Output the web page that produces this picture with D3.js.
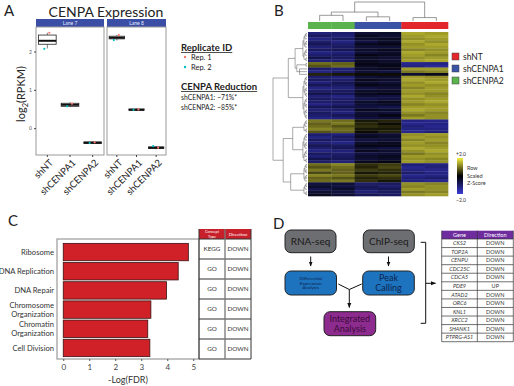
<!DOCTYPE html>
<html><head><meta charset="utf-8">
<script src="https://cdn.jsdelivr.net/npm/d3@7"></script>
<style>body{margin:0;background:#fff} svg{display:block} text{font-family:Lato,"Open Sans",sans-serif}</style>
</head><body><svg id="c" width="514" height="386"></svg>
<script>
// ---------- DATA ----------
// Panel A
const laneNames = ["Lane 7", "Lane 8"];
const groups = ["shNT", "shCENPA1", "shCENPA2"];
// box stats: [q1, median, q3, whiskerLow, whiskerHigh]
const lane7Box = [[2.19, 2.28, 2.43, 2.08, 2.49], [0.57, 0.61, 0.65, 0.55, 0.67], [-0.40, -0.38, -0.36, -0.41, -0.35]];
const lane8Box = [[2.33, 2.36, 2.40, 2.29, 2.43], [0.47, 0.48, 0.50, 0.46, 0.51], [-0.53, -0.51, -0.49, -0.55, -0.47]];
const rep1Lane7 = [2.49, 0.64, -0.37];
const rep2Lane7 = [2.07, 0.57, -0.39];
const rep1Lane8 = [2.43, 0.49, -0.51];
const rep2Lane8 = [2.30, 0.48, -0.47];
const yTicksA = [0, 1, 2];
const replicateLabels = ["Rep. 1", "Rep. 2"];
const reductionLines = ["shCENPA1: ~71%*", "shCENPA2: ~85%*"];

// Panel B
const sampleGroups = ["shCENPA2", "shCENPA2", "shCENPA1", "shCENPA1", "shNT", "shNT"];
const legendGroups = ["shNT", "shCENPA1", "shCENPA2"];
const blockSizes = [11, 2, 1, 1, 1, 16, 5, 11, 7, 5];
const heatRows = [
  [-1.1,-1.0,-0.5,-0.4,1.4,1.3],[-0.9,-1.1,-0.3,-0.5,1.3,1.4],[-1.2,-0.9,-0.4,-0.3,1.2,1.3],
  [-1.0,-1.2,-0.6,-0.4,1.4,1.2],[-0.8,-1.0,-0.3,-0.2,1.2,1.4],[-1.1,-0.9,-0.5,-0.5,1.3,1.3],
  [-0.9,-0.8,-0.4,-0.3,1.1,1.2],[-1.2,-1.1,-0.5,-0.4,1.4,1.3],[-1.0,-0.9,-0.2,-0.3,1.3,1.1],
  [-0.7,-0.9,-0.4,-0.5,1.2,1.3],[-1.1,-1.0,-0.3,-0.4,1.3,1.4],
  [0.9,0.8,-0.2,-0.3,-1.3,-1.2],[0.7,0.9,-0.3,-0.2,-1.2,-1.4],
  [-1.0,-1.1,-0.4,-0.3,1.3,1.3],
  [-1.2,-1.0,-0.5,-0.6,1.0,1.1],
  [0.3,0.2,0.1,0.1,-0.5,-0.3],
  [-1.0,-1.1,-0.5,-0.4,1.3,1.2],[-0.9,-1.0,-0.3,-0.4,1.4,1.3],[-1.1,-0.8,-0.4,-0.5,1.2,1.4],
  [-0.8,-0.9,-0.2,-0.3,1.3,1.2],[-1.2,-1.1,-0.6,-0.5,1.1,1.3],[-1.0,-0.9,-0.4,-0.4,1.3,1.3],
  [-0.7,-0.8,-0.3,-0.2,1.2,1.1],[-1.1,-1.2,-0.5,-0.6,1.4,1.2],[-0.9,-1.0,-0.7,-0.6,1.2,1.3],
  [-1.0,-0.9,-0.4,-0.3,1.3,1.4],[-1.2,-1.0,-0.5,-0.4,1.1,1.2],[-0.8,-0.7,-0.6,-0.7,1.3,1.3],
  [-1.1,-1.0,-0.3,-0.4,1.4,1.3],[-0.9,-1.1,-0.5,-0.5,1.2,1.1],[-1.0,-0.8,-0.4,-0.2,1.0,1.2],
  [-1.2,-1.1,-0.6,-0.5,1.3,1.2],
  [1.0,0.9,0.2,0.3,-1.2,-1.3],[0.8,1.0,0.3,0.1,-1.3,-1.2],[0.9,0.7,0.4,0.3,-1.1,-1.3],
  [1.1,0.9,0.2,0.2,-1.2,-1.2],[0.7,0.8,0.1,0.3,-1.3,-1.1],
  [-1.0,-1.1,-0.4,-0.5,1.2,1.3],[-1.2,-0.9,-0.3,-0.4,1.3,1.2],[-0.9,-1.0,-0.6,-0.5,1.1,1.3],
  [-1.1,-1.2,-0.4,-0.3,1.3,1.1],[-0.8,-0.9,-0.2,-0.2,1.2,1.2],[-1.0,-0.8,-0.5,-0.6,1.4,1.3],
  [-1.2,-1.1,-0.3,-0.4,1.2,1.4],[-0.9,-1.0,-0.6,-0.5,1.0,1.2],[-1.1,-0.9,-0.4,-0.3,1.3,1.3],
  [-0.7,-0.8,-0.5,-0.4,1.2,1.1],[-1.0,-1.1,-0.3,-0.2,1.3,1.2],
  [0.9,1.1,0.4,0.5,-1.1,-1.2],[0.7,0.9,0.3,0.6,-1.3,-1.1],[1.0,0.8,0.5,0.4,-1.2,-1.3],
  [0.6,0.8,0.2,0.3,-1.0,-1.2],[1.1,1.0,0.5,0.6,-1.3,-1.2],[0.8,0.7,0.3,0.4,-1.1,-1.0],
  [0.9,1.0,0.4,0.2,-1.2,-1.3],
  [-0.6,-0.5,-1.0,-0.9,1.2,1.1],[-0.4,-0.6,-0.8,-1.0,1.1,1.2],[-0.7,-0.4,-0.9,-0.8,1.3,1.2],
  [-0.5,-0.6,-1.1,-0.9,1.0,1.1],[-0.3,-0.5,-0.8,-0.9,1.2,1.3]
];

// Panel C
const concepts = ["Ribosome", "DNA Replication", "DNA Repair", "Chromosome Organization", "Chromatin Organization", "Cell Division"];
const negLogFDR = [4.81, 4.42, 3.97, 3.37, 3.25, 3.33];
const conceptType = ["KEGG", "GO", "GO", "GO", "GO", "GO"];
const conceptDirection = ["DOWN", "DOWN", "DOWN", "DOWN", "DOWN", "DOWN"];
const xTicksC = [0, 1, 2, 3, 4, 5];

// Panel D
const genes = ["CKS2", "TOP2A", "CENPU", "CDC25C", "CDCA5", "PDE9", "ATAD2", "ORC6", "KNL1", "XRCC2", "SHANK1", "PTPRG-AS1"];
const geneDirection = ["DOWN", "DOWN", "DOWN", "DOWN", "DOWN", "UP", "DOWN", "DOWN", "DOWN", "DOWN", "DOWN", "DOWN"];

// ---------- DRAW ----------
const svg = d3.select("#c");
const label = (x, y, t) => svg.append("text").attr("x", x).attr("y", y).attr("font-size", 15).attr("fill", "#222").text(t);

// ===== Panel A =====
label(4, 16, "A");
svg.append("text").attr("x", 106).attr("y", 17).attr("text-anchor", "middle").attr("font-size", 14).attr("fill", "#222").text("CENPA Expression");
const yA = d3.scaleLinear().domain([-0.7, 2.64]).range([155, 27]);
const repColors = ["#F8766D", "#00BFC4"];
const panelsA = [
  { x0: 36, x1: 104, lane: laneNames[0], box: lane7Box, r1: rep1Lane7, r2: rep2Lane7 },
  { x0: 107, x1: 166, lane: laneNames[1], box: lane8Box, r1: rep1Lane8, r2: rep2Lane8 }
];
panelsA.forEach((p, pi) => {
  const g = svg.append("g");
  const xb = d3.scaleBand().domain(groups).range([p.x0, p.x1]);
  g.append("rect").attr("x", p.x0).attr("y", 19).attr("width", p.x1 - p.x0).attr("height", 8).attr("fill", "#3b4ea6");
  g.append("text").attr("x", (p.x0 + p.x1) / 2).attr("y", 25.3).attr("text-anchor", "middle").attr("font-size", 5).attr("fill", "#e8ecff").text(p.lane);
  g.append("rect").attr("x", p.x0).attr("y", 27).attr("width", p.x1 - p.x0).attr("height", 128).attr("fill", "#fff").attr("stroke", "#9a9a9a").attr("stroke-width", 1);
  groups.forEach((grp, i) => {
    const b = p.box[i], cx = xb(grp) + xb.bandwidth() / 2, w = xb.bandwidth() * 0.78;
    g.append("line").attr("x1", cx).attr("x2", cx).attr("y1", yA(b[4])).attr("y2", yA(b[2])).attr("stroke", "#222").attr("stroke-width", 0.6);
    g.append("line").attr("x1", cx).attr("x2", cx).attr("y1", yA(b[0])).attr("y2", yA(b[3])).attr("stroke", "#222").attr("stroke-width", 0.6);
    g.append("rect").attr("x", cx - w / 2).attr("y", yA(b[2])).attr("width", w).attr("height", Math.max(0.5, yA(b[0]) - yA(b[2])))
      .attr("fill", "#fff").attr("stroke", "#222").attr("stroke-width", 0.8);
    g.append("line").attr("x1", cx - w / 2).attr("x2", cx + w / 2).attr("y1", yA(b[1])).attr("y2", yA(b[1])).attr("stroke", "#111").attr("stroke-width", 2);
    g.append("circle").attr("cx", cx + 2).attr("cy", yA(p.r1[i])).attr("r", 1.1).attr("fill", repColors[0]);
    g.append("circle").attr("cx", cx - 3).attr("cy", yA(p.r2[i])).attr("r", 1.1).attr("fill", repColors[1]);
  });
  const ax = g.append("g").attr("transform", "translate(0,155)").call(d3.axisBottom(xb).tickSize(2).tickSizeOuter(0));
  ax.select(".domain").remove();
  ax.selectAll(".tick line").attr("stroke", "#444");
  ax.selectAll(".tick text").attr("y", 0).attr("dy", "0.35em").attr("font-size", 9.5).attr("fill", "#222")
    .attr("text-anchor", "end").attr("transform", "translate(4,6) rotate(-45)").attr("font-family", "Lato");
  if (pi === 0) {
    const ay = g.append("g").attr("transform", `translate(${p.x0},0)`).call(d3.axisLeft(yA).tickValues(yTicksA).tickSize(2).tickPadding(2).tickFormat(d3.format("d")));
    ay.select(".domain").remove();
    ay.selectAll(".tick line").attr("stroke", "#444");
    ay.selectAll(".tick text").attr("font-size", 5).attr("fill", "#555");
  }
});
const ylab = svg.append("text").attr("transform", "translate(25,94) rotate(-90)").attr("text-anchor", "middle").attr("font-size", 11).attr("fill", "#222");
ylab.append("tspan").text("log");
ylab.append("tspan").attr("font-size", 7.5).attr("dy", 3).text("2");
ylab.append("tspan").attr("dy", -3).text("(RPKM)");
// legend A
function ulTitle(x, y, t) {
  const tx = svg.append("text").attr("x", x).attr("y", y).attr("font-size", 9.5).attr("font-weight", "bold").attr("fill", "#222").text(t);
  const w = tx.node().getComputedTextLength();
  svg.append("line").attr("x1", x).attr("x2", x + w).attr("y1", y + 1.5).attr("y2", y + 1.5).attr("stroke", "#222").attr("stroke-width", 0.8);
}
ulTitle(181, 51, "Replicate ID");
replicateLabels.forEach((t, i) => {
  svg.append("circle").attr("cx", 185).attr("cy", 57 + i * 10).attr("r", 1.2).attr("fill", repColors[i]);
  svg.append("text").attr("x", 191).attr("y", 60 + i * 10).attr("font-size", 7.5).attr("fill", "#222").text(t);
});
ulTitle(181, 90, "CENPA Reduction");
reductionLines.forEach((t, i) => svg.append("text").attr("x", 181).attr("y", 100 + i * 10).attr("font-size", 6.8).attr("fill", "#222").text(t));

// ===== Panel B =====
label(274, 16, "B");
const groupColor = { shNT: "#e3262b", shCENPA1: "#3a53a4", shCENPA2: "#5ab34c" };
const xH = d3.scaleBand().domain(d3.range(sampleGroups.length)).range([308, 448]);
const yH = d3.scaleBand().domain(d3.range(heatRows.length)).range([32, 196]);
const heatColor = d3.scaleLinear().domain([-2, 0, 2]).range(["#3a3ad8", "#000000", "#f4f040"]);
const gH = svg.append("g");
heatRows.forEach((row, r) => row.forEach((v, c) => {
  gH.append("rect").attr("x", xH(c)).attr("y", yH(r)).attr("width", xH.bandwidth() + 0.3).attr("height", yH.bandwidth() + 0.3).attr("fill", heatColor(v));
}));
sampleGroups.forEach((s, c) => gH.append("rect").attr("x", xH(c)).attr("y", 22).attr("width", xH.bandwidth() + 0.3).attr("height", 7).attr("fill", groupColor[s]));
// column dendrogram (heights 0..1)
const colTree = { h: 1, c: [{ h: 0.47, c: [{ h: 0.3, c: [0, 1] }, { h: 0.36, c: [{ h: 0.22, c: [2, 3] }] }] }, { h: 0.18, c: [4, 5] }] };
const colY = h => 21 - h * 19;
function drawColNode(n) {
  if (typeof n === "number") return { x: xH(n) + xH.bandwidth() / 2, y: 21 };
  const kids = n.c.map(drawColNode);
  const y = colY(n.h);
  if (kids.length === 1) return kids[0].y < y ? kids[0] : (svg.append("line").attr("x1", kids[0].x).attr("x2", kids[0].x).attr("y1", y).attr("y2", kids[0].y).attr("stroke", "#555").attr("stroke-width", 0.6), { x: kids[0].x, y });
  kids.forEach(k => svg.append("line").attr("x1", k.x).attr("x2", k.x).attr("y1", y).attr("y2", k.y).attr("stroke", "#555").attr("stroke-width", 0.6));
  svg.append("line").attr("x1", kids[0].x).attr("x2", kids[kids.length - 1].x).attr("y1", y).attr("y2", y).attr("stroke", "#555").attr("stroke-width", 0.6);
  return { x: (kids[0].x + kids[kids.length - 1].x) / 2, y };
}
drawColNode(colTree);
// row dendrogram
const blockStarts = blockSizes.map((s, i) => d3.sum(blockSizes.slice(0, i)));
function rowSub(lo, hi) {
  if (lo === hi) return lo;
  const mid = Math.floor((lo + hi) / 2);
  return { h: 0.03 * Math.ceil(Math.log2(hi - lo + 1)), c: [rowSub(lo, mid), rowSub(mid + 1, hi)] };
}
const blockTree = { h: 1, c: [
  { h: 0.55, c: [{ h: 0.35, c: [{ b: 0 }, { h: 0.3, c: [{ b: 1 }, { h: 0.22, c: [{ b: 2 }, { b: 3 }, { b: 4 }] }] }] }, { b: 5 }] },
  { h: 0.7, c: [{ h: 0.42, c: [{ b: 6 }, { b: 7 }] }, { h: 0.48, c: [{ b: 8 }, { b: 9 }] }] }
] };
const rowX = h => 307 - h * 34;
function drawRowNode(n) {
  if (typeof n === "number") return { x: 307, y: yH(n) + yH.bandwidth() / 2 };
  if (n.b !== undefined) return drawRowNode(rowSub(blockStarts[n.b], blockStarts[n.b] + blockSizes[n.b] - 1));
  const kids = n.c.map(drawRowNode);
  const x = rowX(n.h);
  kids.forEach(k => svg.append("line").attr("x1", x).attr("x2", k.x).attr("y1", k.y).attr("y2", k.y).attr("stroke", "#555").attr("stroke-width", 0.5));
  svg.append("line").attr("x1", x).attr("x2", x).attr("y1", kids[0].y).attr("y2", kids[kids.length - 1].y).attr("stroke", "#555").attr("stroke-width", 0.5);
  return { x, y: (kids[0].y + kids[kids.length - 1].y) / 2 };
}
drawRowNode(blockTree);
// legend B
legendGroups.forEach((g, i) => {
  svg.append("rect").attr("x", 452).attr("y", 53 + i * 12).attr("width", 7).attr("height", 7).attr("fill", groupColor[g]).attr("stroke", "#444").attr("stroke-width", 0.5);
  svg.append("text").attr("x", 463).attr("y", 59.5 + i * 12).attr("font-size", 8.5).attr("fill", "#222").text(g);
});
const defs = svg.append("defs");
const grad = defs.append("linearGradient").attr("id", "zg").attr("x1", 0).attr("x2", 0).attr("y1", 0).attr("y2", 1);
grad.append("stop").attr("offset", "0%").attr("stop-color", heatColor(2));
grad.append("stop").attr("offset", "50%").attr("stop-color", heatColor(0));
grad.append("stop").attr("offset", "100%").attr("stop-color", heatColor(-2));
svg.append("rect").attr("x", 457).attr("y", 158).attr("width", 6).attr("height", 36).attr("fill", "url(#zg)");
svg.append("text").attr("x", 456).attr("y", 156).attr("font-size", 5).attr("fill", "#333").text("+2.0");
svg.append("text").attr("x", 456).attr("y", 202).attr("font-size", 5).attr("fill", "#333").text("\u22122.0");
["Row", "Scaled", "Z-Score"].forEach((t, i) => svg.append("text").attr("x", 467).attr("y", 170 + i * 7.5).attr("font-size", 5.5).attr("fill", "#333").text(t));

// ===== Panel C =====
label(8, 226, "C");
const xC = d3.scaleLinear().domain([-0.24, 5.22]).range([57, 199]);
const yC = d3.scaleBand().domain(concepts).range([242.4, 357.6]).paddingInner(0.093).paddingOuter(0.05);
svg.append("rect").attr("x", 57).attr("y", 239).attr("width", 142).attr("height", 120).attr("fill", "#fff").attr("stroke", "#9a9a9a").attr("stroke-width", 1.2);
concepts.forEach((c, i) => {
  svg.append("rect").attr("x", xC(0)).attr("y", yC(c)).attr("width", xC(negLogFDR[i]) - xC(0)).attr("height", yC.bandwidth())
    .attr("fill", "#cf2127").attr("stroke", "#3a1212").attr("stroke-width", 0.8);
  const lines = c.length > 16 ? c.split(" ") : [c];
  const cy = yC(c) + yC.bandwidth() / 2;
  lines.forEach((l, j) => svg.append("text").attr("x", 54).attr("y", cy + (j - (lines.length - 1) / 2) * 9.3).attr("dy", "0.35em")
    .attr("text-anchor", "end").attr("font-size", 7.6).attr("fill", "#333").text(l));
});
const axC = svg.append("g").attr("transform", "translate(0,359)").call(d3.axisBottom(xC).tickValues(xTicksC).tickFormat(d3.format("d")).tickSize(2).tickPadding(3));
axC.select(".domain").remove();
axC.selectAll(".tick line").attr("stroke", "#555");
axC.selectAll(".tick text").attr("font-size", 8).attr("fill", "#444").attr("font-family", "Lato");
svg.append("text").attr("x", 128).attr("y", 383).attr("text-anchor", "middle").attr("font-size", 9).attr("fill", "#333").text("-Log(FDR)");
// table C
const tC = svg.append("g");
const tcY = d3.scaleBand().domain(concepts).range([239, 359]);
tC.append("rect").attr("x", 199).attr("y", 229).attr("width", 52).attr("height", 10).attr("fill", "#c8202a");
tC.append("text").attr("x", 212).attr("y", 233.3).attr("text-anchor", "middle").attr("font-size", 3.8).attr("fill", "#fff").text("Concept");
tC.append("text").attr("x", 212).attr("y", 237.5).attr("text-anchor", "middle").attr("font-size", 3.8).attr("fill", "#fff").text("Type");
tC.append("text").attr("x", 238).attr("y", 236).attr("text-anchor", "middle").attr("font-size", 4.6).attr("fill", "#fff").text("Direction");
concepts.forEach((c, i) => {
  const cy = tcY(c) + tcY.bandwidth() / 2;
  tC.append("line").attr("x1", 199).attr("x2", 251).attr("y1", tcY(c) + tcY.bandwidth()).attr("y2", tcY(c) + tcY.bandwidth()).attr("stroke", "#333").attr("stroke-width", 1);
  tC.append("text").attr("x", 212).attr("y", cy).attr("dy", "0.35em").attr("text-anchor", "middle").attr("font-size", 6.3).attr("fill", "#333").text(conceptType[i]);
  tC.append("text").attr("x", 238).attr("y", cy).attr("dy", "0.35em").attr("text-anchor", "middle").attr("font-size", 6.3).attr("fill", "#333").text(conceptDirection[i]);
});
tC.append("line").attr("x1", 199).attr("x2", 251).attr("y1", 239).attr("y2", 239).attr("stroke", "#333").attr("stroke-width", 1);
[199, 225, 251].forEach(x => tC.append("line").attr("x1", x).attr("x2", x).attr("y1", 229).attr("y2", 359).attr("stroke", x === 225 ? "#777" : "#333").attr("stroke-width", x === 225 ? 1.3 : 1));

// ===== Panel D =====
label(273, 229, "D");
defs.append("marker").attr("id", "ah").attr("viewBox", "0 0 10 10").attr("refX", 9).attr("refY", 5).attr("markerWidth", 5).attr("markerHeight", 5).attr("orient", "auto")
  .append("path").attr("d", "M0,1 L10,5 L0,9 Z").attr("fill", "#111");
function box(x, y, w, h, fill, lines, fs, color) {
  svg.append("rect").attr("x", x).attr("y", y).attr("width", w).attr("height", h).attr("rx", 6).attr("fill", fill).attr("stroke", "#222").attr("stroke-width", 1);
  lines.forEach((l, j) => svg.append("text").attr("x", x + w / 2).attr("y", y + h / 2 + (j - (lines.length - 1) / 2) * fs * 1.05).attr("dy", "0.35em")
    .attr("text-anchor", "middle").attr("font-size", fs).attr("fill", color).text(l));
}
box(285, 230, 51, 22.7, "#6d6e71", ["RNA-seq"], 10, "#1a1a1a");
box(363.3, 230, 51, 22.7, "#6d6e71", ["ChIP-seq"], 10, "#1a1a1a");
box(285, 271, 51.5, 24, "#1e73be", ["Differential", "Expression", "Analysis"], 4.6, "#0b2550");
box(362.7, 271, 51.6, 24, "#1e73be", ["Peak", "Calling"], 9, "#0b2550");
box(324, 311.7, 51.7, 24, "#8e2b8e", ["Integrated", "Analysis"], 9, "#3a0b3a");
const arrow = (x1, y1, x2, y2) => svg.append("line").attr("x1", x1).attr("y1", y1).attr("x2", x2).attr("y2", y2).attr("stroke", "#111").attr("stroke-width", 1).attr("marker-end", "url(#ah)");
const seg = (x1, y1, x2, y2) => svg.append("line").attr("x1", x1).attr("y1", y1).attr("x2", x2).attr("y2", y2).attr("stroke", "#111").attr("stroke-width", 1);
arrow(310.7, 256.5, 310.7, 266);
arrow(388.5, 256.5, 388.5, 266);
seg(338.3, 284, 349.3, 289.5);
seg(361.7, 284, 349.3, 289.5);
arrow(349.3, 289.5, 349.3, 307.5);
seg(420.7, 242.3, 425.7, 242.3);
seg(425.7, 242.3, 425.7, 323.3);
seg(420.7, 323.3, 425.7, 323.3);
arrow(425.7, 283.3, 435.5, 283.3);
// table D
const tD = svg.append("g");
const tdY = d3.scaleBand().domain(genes).range([239, 341.7]);
tD.append("rect").attr("x", 441.7).attr("y", 230.7).attr("width", 71.6).attr("height", 8.3).attr("fill", "#6f2c9e");
tD.append("text").attr("x", 459.5).attr("y", 235).attr("dy", "0.35em").attr("text-anchor", "middle").attr("font-size", 5.5).attr("fill", "#fff").text("Gene");
tD.append("text").attr("x", 495.3).attr("y", 235).attr("dy", "0.35em").attr("text-anchor", "middle").attr("font-size", 5.5).attr("fill", "#fff").text("Direction");
genes.forEach((g, i) => {
  const cy = tdY(g) + tdY.bandwidth() / 2;
  tD.append("line").attr("x1", 441.7).attr("x2", 513.3).attr("y1", tdY(g) + tdY.bandwidth()).attr("y2", tdY(g) + tdY.bandwidth()).attr("stroke", "#333").attr("stroke-width", 0.7);
  tD.append("text").attr("x", 459.5).attr("y", cy).attr("dy", "0.35em").attr("text-anchor", "middle").attr("font-size", 5.5).attr("font-style", "italic").attr("fill", "#333").text(g);
  tD.append("text").attr("x", 495.3).attr("y", cy).attr("dy", "0.35em").attr("text-anchor", "middle").attr("font-size", 5.5).attr("fill", "#333").text(geneDirection[i]);
});
[441.7, 477.3, 513.3].forEach(x => tD.append("line").attr("x1", x).attr("x2", x).attr("y1", 230.7).attr("y2", 341.7).attr("stroke", "#333").attr("stroke-width", 0.7));
tD.append("line").attr("x1", 441.7).attr("x2", 513.3).attr("y1", 239).attr("y2", 239).attr("stroke", "#333").attr("stroke-width", 0.7);
</script></body></html>
